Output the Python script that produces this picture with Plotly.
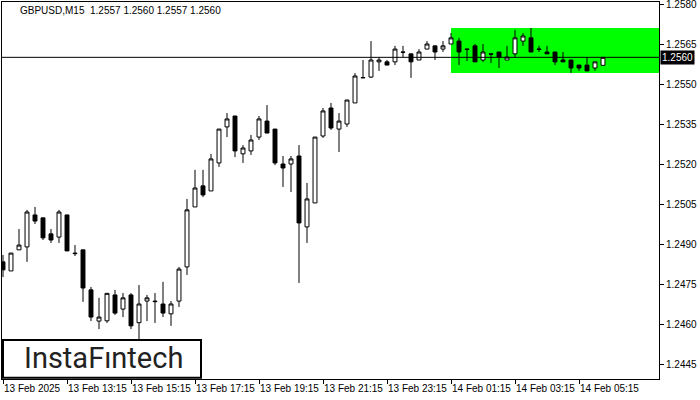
import plotly.graph_objects as go

symbol_title = "GBPUSD,M15\u00a0\u00a01.2557 1.2560 1.2557 1.2560"
tick_labels = ["13 Feb 2025", "13 Feb 13:15", "13 Feb 15:15", "13 Feb 17:15", "13 Feb 19:15",
               "13 Feb 21:15", "13 Feb 23:15", "14 Feb 01:15", "14 Feb 03:15", "14 Feb 05:15"]
bars_per_tick = 8

opens = [1.24833, 1.24799, 1.24878, 1.24889, 1.25009, 1.24998, 1.24938, 1.24926, 1.25009, 1.24866,
         1.24878, 1.24728, 1.24611, 1.24612, 1.24709, 1.24656, 1.24709, 1.24605, 1.24686, 1.24686,
         1.24675, 1.24638, 1.24686, 1.24814, 1.25039, 1.25118, 1.25099, 1.25204, 1.25339, 1.25380,
         1.25238, 1.25249, 1.25301, 1.25361, 1.25331, 1.25200, 1.25200, 1.25230, 1.24964, 1.25054,
         1.25305, 1.25410, 1.25331, 1.25350, 1.25429, 1.25523, 1.25526, 1.25583, 1.25583, 1.25583,
         1.25620, 1.25613, 1.25590, 1.25631, 1.25643, 1.25631, 1.25650, 1.25661, 1.25631, 1.25643,
         1.25590, 1.25613, 1.25620, 1.25590, 1.25613, 1.25661, 1.25673, 1.25631, 1.25620, 1.25620,
         1.25590, 1.25590, 1.25571, 1.25571, 1.25560, 1.25570]
highs = [1.24859, 1.24866, 1.24956, 1.25028, 1.25039, 1.24998, 1.24956, 1.25028, 1.25009, 1.24896,
         1.24878, 1.24739, 1.24698, 1.24716, 1.24728, 1.24716, 1.24716, 1.24746, 1.24709, 1.24716,
         1.24758, 1.24686, 1.24814, 1.25069, 1.25178, 1.25178, 1.25238, 1.25331, 1.25391, 1.25380,
         1.25271, 1.25309, 1.25380, 1.25421, 1.25331, 1.25230, 1.25230, 1.25271, 1.25129, 1.25301,
         1.25410, 1.25429, 1.25391, 1.25440, 1.25541, 1.25590, 1.25661, 1.25601, 1.25590, 1.25643,
         1.25643, 1.25613, 1.25631, 1.25661, 1.25643, 1.25661, 1.25691, 1.25673, 1.25631, 1.25650,
         1.25650, 1.25613, 1.25620, 1.25643, 1.25703, 1.25691, 1.25710, 1.25643, 1.25643, 1.25620,
         1.25620, 1.25590, 1.25571, 1.25601, 1.25583, 1.25600]
lows = [1.24776, 1.24799, 1.24878, 1.24833, 1.24975, 1.24915, 1.24904, 1.24904, 1.24874, 1.24855,
        1.24683, 1.24611, 1.24581, 1.24604, 1.24634, 1.24626, 1.24581, 1.24536, 1.24611, 1.24604,
        1.24626, 1.24593, 1.24664, 1.24784, 1.25039, 1.25076, 1.25099, 1.25189, 1.25301, 1.25226,
        1.25204, 1.25234, 1.25290, 1.25316, 1.25196, 1.25114, 1.25095, 1.24754, 1.24904, 1.25054,
        1.25298, 1.25328, 1.25245, 1.25339, 1.25429, 1.25523, 1.25523, 1.25549, 1.25571, 1.25571,
        1.25601, 1.25523, 1.25590, 1.25631, 1.25590, 1.25620, 1.25650, 1.25571, 1.25586, 1.25583,
        1.25583, 1.25579, 1.25560, 1.25590, 1.25601, 1.25643, 1.25620, 1.25620, 1.25613, 1.25571,
        1.25583, 1.25541, 1.25549, 1.25549, 1.25549, 1.25570]
closes = [1.24803, 1.24866, 1.24896, 1.25020, 1.24986, 1.24923, 1.24915, 1.25020, 1.24874, 1.24864,
          1.24735, 1.24626, 1.24626, 1.24715, 1.24641, 1.24698, 1.24593, 1.24675, 1.24698, 1.24684,
          1.24641, 1.24675, 1.24806, 1.25028, 1.25110, 1.25084, 1.25219, 1.25331, 1.25369, 1.25249,
          1.25260, 1.25290, 1.25369, 1.25316, 1.25204, 1.25185, 1.25219, 1.24979, 1.25069, 1.25301,
          1.25399, 1.25335, 1.25361, 1.25440, 1.25530, 1.25524, 1.25590, 1.25590, 1.25571, 1.25631,
          1.25619, 1.25583, 1.25620, 1.25650, 1.25620, 1.25643, 1.25673, 1.25620, 1.25630, 1.25583,
          1.25620, 1.25612, 1.25601, 1.25601, 1.25673, 1.25680, 1.25620, 1.25630, 1.25613, 1.25583,
          1.25583, 1.25560, 1.25560, 1.25549, 1.25583, 1.25600]

current_price = 1.2560
zone_start_bar = 56
zone_top = 1.25710
zone_bottom = 1.25541
y_ticks = [1.2445, 1.2460, 1.2475, 1.2490, 1.2505, 1.2520, 1.2535, 1.2550, 1.2565, 1.2580]

n = len(opens)
bars = list(range(n))
tickvals = [i * bars_per_tick for i in range(len(tick_labels))]

fig = go.Figure()
fig.add_trace(go.Candlestick(
    x=bars, open=opens, high=highs, low=lows, close=closes,
    increasing=dict(fillcolor="white", line=dict(color="black", width=1)),
    decreasing=dict(fillcolor="black", line=dict(color="black", width=1)),
    whiskerwidth=0, hoverinfo="skip", showlegend=False,
))

x_max = 82
fig.add_shape(type="rect", xref="x", yref="y", x0=zone_start_bar, x1=x_max,
              y0=zone_bottom, y1=zone_top, fillcolor="#00ff00", line_width=0, layer="below")
fig.add_shape(type="line", xref="paper", yref="y", x0=0, x1=1,
              y0=current_price, y1=current_price, line=dict(color="black", width=1))

# logo box
fig.add_shape(type="rect", xref="paper", yref="paper", x0=0.0015, x1=0.3029, y0=0.003, y1=0.1034,
              fillcolor="white", line=dict(color="black", width=2), layer="above")
fig.add_annotation(xref="paper", yref="paper", x=0.154, y=0.055, text="InstaF\u0131ntech",
                   showarrow=False, xanchor="center", yanchor="middle",
                   font=dict(family="Roboto", size=29, color="#222222"))

fig.add_annotation(xref="paper", yref="paper", x=0.0244, y=0.977, text=symbol_title,
                   showarrow=False, xanchor="left", yanchor="middle",
                   font=dict(family="Liberation Sans", size=10, color="black"))

fig.add_annotation(xref="paper", yref="y", x=1.0, y=current_price, text="1.2560",
                   showarrow=False, xanchor="left", yanchor="middle", xshift=1,
                   bgcolor="black", borderpad=1,
                   font=dict(family="Liberation Sans", size=10, color="white"))

fig.update_layout(
    width=700, height=400,
    margin=dict(l=2, r=41, t=2, b=21, autoexpand=False),
    paper_bgcolor="white", plot_bgcolor="white",
    hovermode=False,
    font=dict(family="Liberation Sans", size=10, color="black"),
)
fig.update_xaxes(
    range=[-0.125, x_max], rangeslider_visible=False, automargin=False,
    tickvals=tickvals, ticktext=tick_labels, ticklabelposition="outside right", tickangle=0,
    ticks="outside", ticklen=4, tickcolor="black",
    showgrid=False, zeroline=False, showline=True, linecolor="black", linewidth=1, mirror=True,
    tickfont=dict(family="Liberation Sans", size=10, color="black"),
)
fig.update_yaxes(
    side="right", range=[1.2439375, 1.258075], automargin=False, ticklabeloverflow="allow",
    tickvals=y_ticks, ticktext=[f"{v:.4f}" for v in y_ticks],
    ticks="outside", ticklen=4, tickcolor="black",
    showgrid=False, zeroline=False, showline=True, linecolor="black", linewidth=1, mirror=True,
    tickfont=dict(family="Liberation Sans", size=10, color="black"),
)

fig.write_html("out.html", config={"displayModeBar": False},
               post_script="document.body.style.margin='0';document.body.style.overflow='hidden';")
